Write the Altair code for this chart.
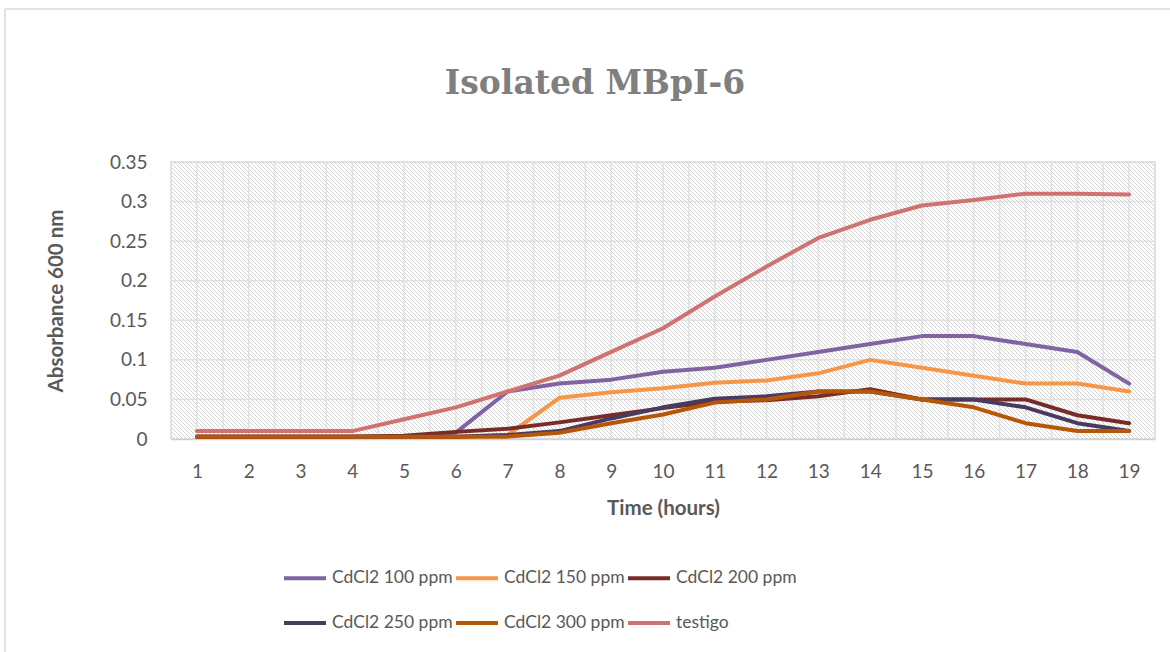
import altair as alt
import pandas as pd

hours = list(range(1, 20))
series_names = ["CdCl2 100 ppm", "CdCl2 150 ppm", "CdCl2 200 ppm",
                "CdCl2 250 ppm", "CdCl2 300 ppm", "testigo"]
colors = ["#8064a2", "#f79646", "#772c2a", "#4b3a5f", "#b65708", "#cf7371"]

cd100 = [0.003, 0.003, 0.003, 0.003, 0.003, 0.008, 0.06, 0.07, 0.075, 0.085,
         0.09, 0.1, 0.11, 0.12, 0.13, 0.13, 0.12, 0.11, 0.07]
cd150 = [0.003, 0.003, 0.003, 0.003, 0.003, 0.003, 0.005, 0.052, 0.059, 0.064,
         0.071, 0.074, 0.083, 0.1, 0.09, 0.08, 0.07, 0.07, 0.06]
cd200 = [0.003, 0.003, 0.003, 0.003, 0.004, 0.009, 0.013, 0.021, 0.03, 0.039,
         0.047, 0.049, 0.054, 0.063, 0.05, 0.05, 0.05, 0.03, 0.02]
cd250 = [0.003, 0.003, 0.003, 0.003, 0.003, 0.003, 0.005, 0.01, 0.026, 0.04,
         0.051, 0.054, 0.06, 0.06, 0.05, 0.05, 0.04, 0.02, 0.01]
cd300 = [0.003, 0.003, 0.003, 0.003, 0.003, 0.003, 0.003, 0.008, 0.02, 0.031,
         0.046, 0.05, 0.06, 0.06, 0.05, 0.04, 0.02, 0.01, 0.01]
testigo = [0.01, 0.01, 0.01, 0.01, 0.025, 0.04, 0.06, 0.08, 0.11, 0.14,
           0.18, 0.218, 0.254, 0.277, 0.295, 0.302, 0.31, 0.31, 0.309]

y_ticks = [0, 0.05, 0.1, 0.15, 0.2, 0.25, 0.3, 0.35]
h_grid = [0.05, 0.1, 0.15, 0.2, 0.25, 0.3]
v_grid = [h / 2 for h in range(1, 40)]

all_series = [cd100, cd150, cd200, cd250, cd300, testigo]
rows = []
for name, vals in zip(series_names, all_series):
    for h, v in zip(hours, vals):
        rows.append({"Time": h, "Absorbance": v, "Series": name})
df = pd.DataFrame(rows)

W, H = 984, 277
X0, X1, Y1 = 0.5, 19.5, 0.35

# diagonal hatch of the plot area (decoration, built from the scales)
px_per_x = W / (X1 - X0)
run = H / px_per_x
step = 4 / px_per_x
hatch_rows = []
n = int((X1 - X0 + run) / step) + 2
for i in range(n):
    xs = X0 - run + i * step
    hatch_rows.append({"xa": xs, "xb": xs + run, "ya": Y1, "yb": 0.0})
hatch_df = pd.DataFrame(hatch_rows)

xscale = alt.Scale(domain=[X0, X1], nice=False, zero=False)
yscale = alt.Scale(domain=[0, Y1], nice=False)

AX = dict(labelFont="Lato", labelFontSize=19, labelColor="#595959",
          titleFont="Lato", titleFontSize=20.5, titleFontWeight="bold", titleColor="#595959")

x_axis = alt.Axis(title="Time (hours)", values=hours, grid=False, ticks=False,
                  tickSize=0, labelPadding=23, domainColor="#d0d0d0",
                  domainWidth=1.5, titleY=75, titleBaseline="alphabetic", **AX)
y_axis = alt.Axis(title="Absorbance 600 nm", values=y_ticks, format="~g",
                  grid=False, ticks=False, tickSize=0, domain=False,
                  labelPadding=24, titleX=-109, titleY=H / 2,
                  titleBaseline="alphabetic", titleAlign="center", titleAngle=-90, **AX)

hatch = alt.Chart(hatch_df).mark_rule(color="#d4d4d4", strokeWidth=1, clip=True).encode(
    x=alt.X("xa:Q", scale=xscale, axis=x_axis), x2="xb:Q",
    y=alt.Y("ya:Q", scale=yscale, axis=y_axis), y2="yb:Q")

vg = alt.Chart(pd.DataFrame({"Time": v_grid})).mark_rule(
    color="#e0e0e0", strokeWidth=1.5).encode(x=alt.X("Time:Q", scale=xscale, axis=x_axis))
hg = alt.Chart(pd.DataFrame({"Absorbance": h_grid})).mark_rule(
    color="#e0e0e0", strokeWidth=1.5).encode(y=alt.Y("Absorbance:Q", scale=yscale, axis=y_axis))

lines = alt.Chart(df).mark_line(strokeWidth=4, strokeCap="round", strokeJoin="round").encode(
    x=alt.X("Time:Q", scale=xscale, axis=x_axis),
    y=alt.Y("Absorbance:Q", scale=yscale, axis=y_axis),
    color=alt.Color("Series:N", sort=series_names,
                    scale=alt.Scale(domain=series_names, range=colors),
                    legend=alt.Legend(title=None, orient="none", legendX=111, legendY=393,
                                      direction="horizontal", columns=3,
                                      symbolType="stroke", symbolSize=1764,
                                      symbolStrokeWidth=4, labelFontSize=17.5,
                                      labelFont="Lato", labelColor="#595959",
                                      labelOffset=4, padding=0, rowPadding=13,
                                      columnPadding=-5)),
)

frame_top = alt.Chart(pd.DataFrame({"a": [0]})).mark_rule(color="#d9d9d9", strokeWidth=1.5).encode(
    x=alt.value(-166), x2=alt.value(W + 20), y=alt.value(-153))
frame_left = alt.Chart(pd.DataFrame({"a": [0]})).mark_rule(color="#d9d9d9", strokeWidth=1.5).encode(
    x=alt.value(-166), y=alt.value(-153), y2=alt.value(H + 220))

chart = alt.layer(hatch, vg, hg, lines, frame_top, frame_left).properties(
    width=W, height=H,
    background="white",
    title=alt.TitleParams("Isolated MBpI-6", font="DejaVu Serif", fontSize=33,
                          fontWeight="bold", color="#7f7f7f", anchor="middle",
                          dx=-68, dy=119, offset=0, baseline="alphabetic"),
    autosize=alt.AutoSizeParams(type="none"),
    padding={"left": 171, "top": 162, "right": 15, "bottom": 213},
).configure_view(stroke="#d9d9d9", strokeWidth=1.5)

chart.save("out.html", embed_options={"renderer": "svg", "actions": False})
